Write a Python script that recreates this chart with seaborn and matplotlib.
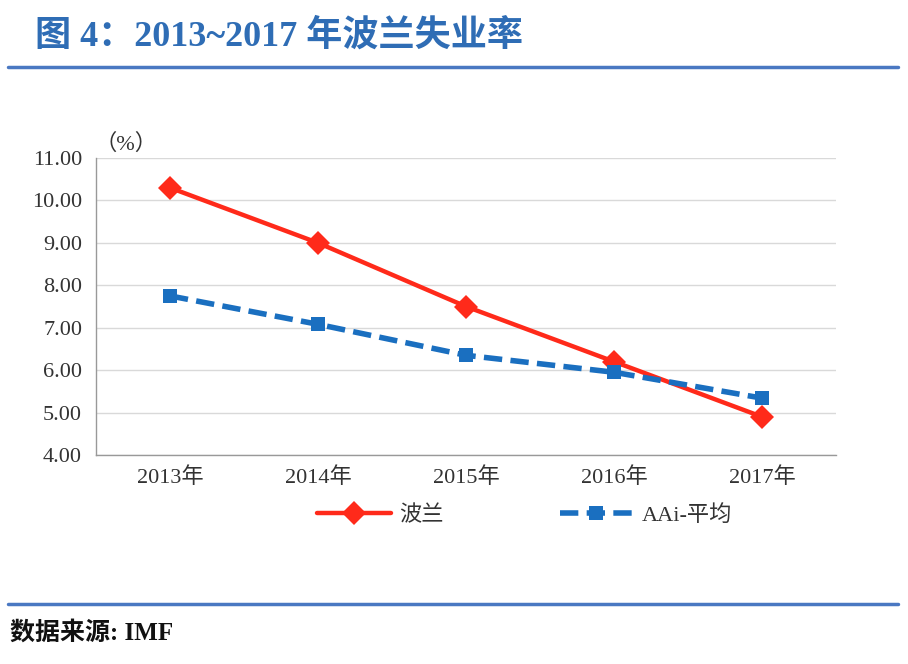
import matplotlib
matplotlib.use("Agg")
import matplotlib.pyplot as plt
import seaborn as sns
import pandas as pd
from matplotlib.lines import Line2D

# data
years = ["2013年", "2014年", "2015年", "2016年", "2017年"]
poland = [10.3, 9.0, 7.5, 6.2, 4.9]
aai_avg = [7.75, 7.08, 6.35, 5.95, 5.34]
series_names = ["波兰", "AAi-平均"]
y_ticks = [4, 5, 6, 7, 8, 9, 10, 11]

sns.set_style("white")
plt.rcParams['font.family'] = ['Liberation Serif', 'Noto Sans CJK SC']

df = pd.DataFrame({
    "year": years * 2,
    "rate": poland + aai_avg,
    "series": [series_names[0]] * len(years) + [series_names[1]] * len(years),
})

fig = plt.figure(figsize=(9.08, 6.64), dpi=100)
ax = fig.add_axes([0.1057, 0.3148, 0.815, 0.4472])

sns.lineplot(
    data=df, x="year", y="rate", hue="series", style="series",
    hue_order=series_names, style_order=series_names,
    palette={series_names[0]: "#ff2a1a", series_names[1]: "#1a6fc0"},
    markers={series_names[0]: "D", series_names[1]: "s"},
    dashes={series_names[0]: "", series_names[1]: (3.3, 1.5)},
    linewidth=3.2, markersize=10, markeredgewidth=0,
    legend=False, sort=False, ax=ax,
)
red_line, blue_line = ax.lines[0], ax.lines[1]
red_line.set_markersize(12)
blue_line.set_linewidth(4)
blue_line.set_markersize(10.5)

# axes styling
ax.set_xlim(-0.5, len(years) - 0.5)
ax.set_ylim(4, 11)
ax.set_yticks(y_ticks)
ax.set_yticklabels([f"{v:.2f}" for v in y_ticks])
ax.set_xticks(range(len(years)))
ax.set_xticklabels(years)
ax.set_xticks([i - 0.5 for i in range(len(years) + 1)], minor=True)
ax.tick_params(axis="x", which="major", length=0, pad=9, labelsize=16, colors="#333333")
ax.tick_params(axis="x", which="minor", length=6, width=1, color="#999999")
ax.tick_params(axis="y", length=6, width=1, color="#999999", labelsize=16, labelcolor="#333333", pad=4)
ax.set_xlabel("")
ax.set_ylabel("")
ax.grid(axis="y", color="#d9d9d9", linewidth=1)
ax.grid(axis="x", visible=False)
for side in ["top", "right"]:
    ax.spines[side].set_visible(False)
for side in ["left", "bottom"]:
    ax.spines[side].set_color("#999999")
    ax.spines[side].set_linewidth(1)

ax.text(-0.002, 1.01, "（%）", transform=ax.transAxes, fontsize=16, color="#333333",
        ha="left", va="bottom")

# legend below the plot
fig.legend(handles=[red_line, blue_line], labels=series_names, loc="center",
           bbox_to_anchor=(0.578, 0.224), ncol=2, frameon=False, fontsize=16,
           handlelength=3.3, columnspacing=5.2, handletextpad=0.4,
           labelcolor="#333333")

# title, rules and source
fig.text(35 / 908, 1 - 36 / 664, "图 4：2013~2017 年波兰失业率", fontsize=26,
         fontweight="bold", color="#2f6db5", ha="left", va="center")
fig.add_artist(Line2D([8 / 908, 898 / 908], [1 - 67 / 664] * 2, color="#4a78c2", lw=2.5))
fig.add_artist(Line2D([8 / 908, 898 / 908], [1 - 604 / 664] * 2, color="#4a78c2", lw=2.5))
fig.text(10 / 908, 1 - 633 / 664, "数据来源: IMF", fontsize=18, fontweight="bold",
         color="#111111", ha="left", va="center")

fig.savefig("out.png", dpi=100)
